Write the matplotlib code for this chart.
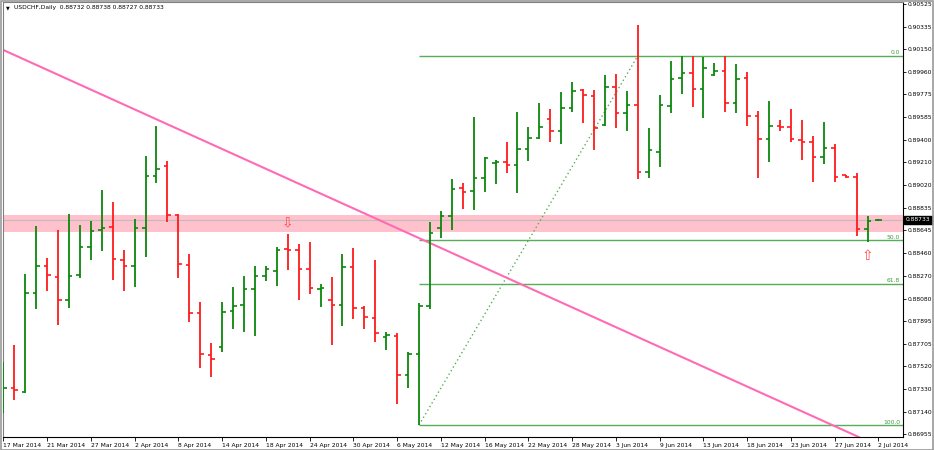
import matplotlib
matplotlib.use("Agg")
import matplotlib.pyplot as plt
from matplotlib.patches import Rectangle
from matplotlib.transforms import blended_transform_factory

# ---------------- data ----------------
opens = [0.87254, 0.87339, 0.87304, 0.88128, 0.88352, 0.88256, 0.88068, 0.88278, 0.88505, 0.88649,
         0.88671, 0.88400, 0.88347, 0.88663, 0.89100, 0.89183, 0.88773, 0.88358, 0.87962, 0.87611,
         0.87680, 0.87979, 0.88024, 0.88159, 0.88267, 0.88308, 0.88489, 0.88483, 0.88325, 0.88159,
         0.88068, 0.88029, 0.88344, 0.88004, 0.87921, 0.87758, 0.87771, 0.87442, 0.87619, 0.88018,
         0.88663, 0.88765, 0.88995, 0.88973, 0.89083, 0.89203, 0.89211, 0.89188, 0.89319, 0.89410,
         0.89568, 0.89471, 0.89659, 0.89811, 0.89761, 0.89520, 0.89838, 0.89618, 0.89687, 0.89133,
         0.89299, 0.89678, 0.89908, 0.89955, 0.89819, 0.89936, 0.89971, 0.89701, 0.89913, 0.89598,
         0.89404, 0.89512, 0.89506, 0.89396, 0.89382, 0.89252, 0.89327, 0.89105, 0.89086, 0.88655,
         0.88732]
highs = [0.87555, 0.87691, 0.88286, 0.88684, 0.88419, 0.88649, 0.88782, 0.88690, 0.88724, 0.88978,
         0.88884, 0.88480, 0.88740, 0.89263, 0.89515, 0.89224, 0.88779, 0.88450, 0.88051, 0.87708,
         0.88049, 0.88178, 0.88267, 0.88352, 0.88347, 0.88510, 0.88616, 0.88533, 0.88552, 0.88200,
         0.88256, 0.88450, 0.88502, 0.88018, 0.88400, 0.87804, 0.87791, 0.87638, 0.88040, 0.88718,
         0.88806, 0.89072, 0.89036, 0.89587, 0.89252, 0.89230, 0.89382, 0.89631, 0.89506, 0.89706,
         0.89653, 0.89797, 0.89880, 0.89819, 0.89811, 0.89936, 0.89941, 0.89805, 0.90351, 0.89498,
         0.89772, 0.90052, 0.90093, 0.90095, 0.90087, 0.90038, 0.90090, 0.90024, 0.89963, 0.89639,
         0.89722, 0.89562, 0.89653, 0.89562, 0.89432, 0.89543, 0.89360, 0.89108, 0.89120, 0.88765,
         0.88738]
lows = [0.87132, 0.87237, 0.87296, 0.87990, 0.88142, 0.87860, 0.88004, 0.88253, 0.88400, 0.88474,
        0.88234, 0.88145, 0.88178, 0.88427, 0.89036, 0.88713, 0.88253, 0.87882, 0.87506, 0.87431,
        0.87638, 0.87827, 0.87802, 0.87769, 0.88225, 0.88184, 0.88319, 0.88068, 0.88117, 0.88012,
        0.87694, 0.87854, 0.87907, 0.87824, 0.87716, 0.87653, 0.87204, 0.87335, 0.87030, 0.87995,
        0.88580, 0.88649, 0.88821, 0.88815, 0.88967, 0.89028, 0.89120, 0.88953, 0.89222, 0.89402,
        0.89382, 0.89360, 0.89626, 0.89535, 0.89313, 0.89515, 0.89493, 0.89471, 0.89070, 0.89083,
        0.89169, 0.89618, 0.89775, 0.89672, 0.89576, 0.89930, 0.89631, 0.89623, 0.89515, 0.89083,
        0.89216, 0.89473, 0.89377, 0.89230, 0.89050, 0.89194, 0.89045, 0.89078, 0.88599, 0.88547,
        0.88727]
closes = [0.87335, 0.87320, 0.88128, 0.88352, 0.88278, 0.88068, 0.88269, 0.88505, 0.88643, 0.88663,
          0.88411, 0.88347, 0.88663, 0.89097, 0.89153, 0.88773, 0.88364, 0.87962, 0.87619, 0.87575,
          0.87970, 0.88018, 0.88159, 0.88267, 0.88323, 0.88483, 0.88480, 0.88328, 0.88165, 0.88170,
          0.88029, 0.88344, 0.88004, 0.87924, 0.87791, 0.87775, 0.87442, 0.87619, 0.88018, 0.88621,
          0.88765, 0.88989, 0.88967, 0.89078, 0.89244, 0.89216, 0.89188, 0.89319, 0.89410, 0.89506,
          0.89471, 0.89659, 0.89805, 0.89770, 0.89493, 0.89838, 0.89623, 0.89687, 0.89133, 0.89313,
          0.89687, 0.89902, 0.89950, 0.89819, 0.89991, 0.89971, 0.89701, 0.89902, 0.89598, 0.89404,
          0.89515, 0.89506, 0.89402, 0.89382, 0.89252, 0.89327, 0.89091, 0.89086, 0.88655, 0.88724,
          0.88733]

date_labels = ["17 Mar 2014", "21 Mar 2014", "27 Mar 2014", "2 Apr 2014", "8 Apr 2014",
               "14 Apr 2014", "18 Apr 2014", "24 Apr 2014", "30 Apr 2014", "6 May 2014",
               "12 May 2014", "16 May 2014", "22 May 2014", "28 May 2014", "3 Jun 2014",
               "9 Jun 2014", "13 Jun 2014", "18 Jun 2014", "23 Jun 2014", "27 Jun 2014",
               "2 Jul 2014"]
date_step = 4

price_ticks = [0.90525, 0.90335, 0.90150, 0.89960, 0.89775, 0.89585, 0.89400, 0.89210, 0.89020,
               0.88835, 0.88645, 0.88460, 0.88270, 0.88080, 0.87895, 0.87705, 0.87520, 0.87330,
               0.87140, 0.86955]

title_text = "USDCHF,Daily  0.88732 0.88738 0.88727 0.88733"
bid_price = 0.88733
zone_low, zone_high = 0.88630, 0.88773
trend_pts = [(0, 0.90143), (78, 0.86938)]
fib_bar_from, fib_bar_to = 38, 58
fib_price_100, fib_price_0 = 0.87030, 0.90095
fib_levels = [0.0, 50.0, 61.8, 100.0]
arrow_down_at = (26, 0.88709)
arrow_up_at = (79, 0.88433)

# ---------------- figure ----------------
W, H = 934, 450
fig = plt.figure(figsize=(W / 100, H / 100), dpi=100)
fig.patch.set_facecolor("white")
ax = fig.add_axes([3 / W, 1 - 437 / H, 900 / W, 435 / H])
ax.set_facecolor("white")

FS = 4.3
FONT = "DejaVu Sans"
GREEN = "#0b870b"
RED = "#ff1a1a"
FIBC = "#58ad58"

ax.set_xlim(-0.03, 82.24)
ax.set_ylim(0.869303, 0.905416)

# zone + bid line
ax.axhspan(zone_low, zone_high, color="#ffc2cc", zorder=0, lw=0)
ax.axhline(bid_price, color="#bdbdbd", lw=0.8, zorder=1)

# fibonacci
rng = fib_price_0 - fib_price_100
for lv in fib_levels:
    p = fib_price_0 - rng * lv / 100.0
    ax.hlines(p, fib_bar_from, 83, color=FIBC, lw=1.0, zorder=2)
    ax.text(81.95, p + 0.00004, f"{lv:.1f}", ha="right", va="bottom", fontsize=FS,
            color="#3d9a3d", family=FONT, zorder=5)
ax.plot([fib_bar_from, fib_bar_to], [fib_price_100, fib_price_0], color=FIBC, lw=1.0,
        linestyle=(0, (1, 2)), zorder=2)

# trend line
ax.axline(trend_pts[0], trend_pts[1], color="#ff6ab4", lw=1.5, zorder=2)

# OHLC bars
tick = 0.32
for i, (o, h, l, c) in enumerate(zip(opens, highs, lows, closes)):
    col = GREEN if c >= o else RED
    ax.vlines(i, l, h, color=col, lw=1.3, zorder=4)
    ax.hlines(o, i - tick, i, color=col, lw=1.2, zorder=4)
    ax.hlines(c, i, i + tick, color=col, lw=1.2, zorder=4)

# arrows
ax.text(arrow_down_at[0], arrow_down_at[1], "\u21e9", ha="center", va="center",
        fontsize=10, color="#ff4a4a", family="DejaVu Sans", zorder=6)
ax.text(arrow_up_at[0], arrow_up_at[1], "\u21e7", ha="center", va="center",
        fontsize=10, color="#ff4a4a", family="DejaVu Sans", zorder=6)

# axes styling
ax.yaxis.tick_right()
ax.set_yticks(price_ticks)
ax.set_yticklabels([f"{v:.5f}" for v in price_ticks], fontsize=FS, family=FONT)
ax.set_xticks([i * date_step for i in range(len(date_labels))])
ax.set_xticklabels(date_labels, fontsize=FS, family=FONT)
for lab in ax.get_xticklabels():
    lab.set_horizontalalignment("left")
ax.tick_params(axis="y", direction="out", length=2.5, width=0.6, pad=1, colors="black")
ax.tick_params(axis="x", direction="out", length=3, width=0.6, pad=1.5, colors="black")
for s in ["left", "top"]:
    ax.spines[s].set_color("#808080")
    ax.spines[s].set_linewidth(0.8)
for s in ["right", "bottom"]:
    ax.spines[s].set_color("black")
    ax.spines[s].set_linewidth(0.8)

# current price label
tr = blended_transform_factory(ax.transAxes, ax.transData)
ax.text(1.003, bid_price, f"{bid_price:.5f}", transform=tr, ha="left", va="center",
        fontsize=FS, family=FONT, color="white", zorder=10, clip_on=False,
        bbox=dict(boxstyle="square,pad=0.25", fc="black", ec="black"))

# title
fig.text(6 / W, 1 - 8 / H, "\u25bc", fontsize=3.5, family="DejaVu Sans", va="center", ha="left")
fig.text(14 / W, 1 - 8 / H, title_text, fontsize=FS, family=FONT, va="center", ha="left")

# outer frame
fig.patches.append(Rectangle((0.5 / W, 0.5 / H), 1 - 1.5 / W, 1 - 1.5 / H, transform=fig.transFigure,
                             fill=False, ec="#9a9a9a", lw=1.2))

fig.savefig("out.png", dpi=100, facecolor="white")
